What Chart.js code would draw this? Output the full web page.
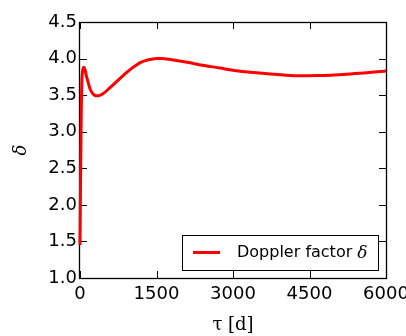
<!DOCTYPE html>
<html>
<head>
<meta charset="utf-8">
<script src="https://cdn.jsdelivr.net/npm/chart.js@4/dist/chart.umd.min.js"></script>
<style>
  html, body { margin: 0; padding: 0; background: #fff; }
  #c { display: block; }
</style>
</head>
<body>
<canvas id="c" width="406" height="336"></canvas>
<script>
// Doppler factor as a function of observer time tau (days)
const tauDays = [0, 20, 40, 80, 130, 200, 280, 350, 450, 600, 800, 900, 1000, 1100, 1200, 1300, 1400, 1500, 1600, 1700, 1800, 2100, 2400, 2750, 3000, 3400, 4000, 4300, 4700, 5300, 6000];
const dopplerFactor = [1.45, 3.0, 3.75, 3.88, 3.75, 3.58, 3.50, 3.49, 3.52, 3.61, 3.74, 3.80, 3.86, 3.91, 3.95, 3.975, 3.99, 4.0, 4.0, 3.995, 3.985, 3.95, 3.91, 3.87, 3.84, 3.81, 3.775, 3.765, 3.767, 3.79, 3.83];
const xTicks = [0, 1500, 3000, 4500, 6000];
const yTicks = [1.0, 1.5, 2.0, 2.5, 3.0, 3.5, 4.0, 4.5];
const seriesLabel = 'Doppler factor ';
const seriesSymbol = 'δ';

const points = tauDays.map((t, i) => ({ x: t, y: dopplerFactor[i] }));

// Frame around the plot area with inward tick marks on all four sides
const framePlugin = {
  id: 'frame',
  beforeDatasetsDraw(chart) {
    const { ctx, chartArea: a, scales } = chart;
    const len = 7;
    ctx.save();
    ctx.strokeStyle = '#000';
    ctx.lineWidth = 1;
    ctx.beginPath();
    scales.x.ticks.forEach(t => {
      const px = Math.round(scales.x.getPixelForValue(t.value)) + 0.5;
      ctx.moveTo(px, a.bottom); ctx.lineTo(px, a.bottom - len);
      ctx.moveTo(px, a.top); ctx.lineTo(px, a.top + len);
    });
    scales.y.ticks.forEach(t => {
      const py = Math.round(scales.y.getPixelForValue(t.value)) + 0.5;
      ctx.moveTo(a.left, py); ctx.lineTo(a.left + len, py);
      ctx.moveTo(a.right, py); ctx.lineTo(a.right - len, py);
    });
    ctx.stroke();
    ctx.lineWidth = 1.3;
    ctx.strokeRect(Math.round(a.left) - 0.5, Math.round(a.top) + 0.5,
                   Math.round(a.right - a.left) + 1, Math.round(a.bottom - a.top));
    ctx.restore();
  }
};

// Boxed legend in the lower right corner of the plot area
const boxLegendPlugin = {
  id: 'boxLegend',
  afterDraw(chart) {
    const { ctx, chartArea: a } = chart;
    const ds = chart.data.datasets[0];
    const w = 196, h = 35;
    const x0 = a.right - 8 - w, y0 = a.bottom - 8 - h;
    ctx.save();
    ctx.fillStyle = '#fff';
    ctx.fillRect(x0, y0, w, h);
    ctx.strokeStyle = '#000';
    ctx.lineWidth = 1;
    ctx.strokeRect(Math.round(x0) + 0.5, Math.round(y0) + 0.5, w, h);
    const cy = y0 + h / 2;
    ctx.strokeStyle = ds.borderColor;
    ctx.lineWidth = ds.borderWidth;
    ctx.beginPath();
    ctx.moveTo(x0 + 11, cy); ctx.lineTo(x0 + 38, cy);
    ctx.stroke();
    ctx.fillStyle = '#000';
    ctx.textBaseline = 'middle';
    ctx.font = '16px "DejaVu Sans"';
    ctx.fillText(seriesLabel, x0 + 55, cy);
    const tw = ctx.measureText(seriesLabel).width;
    ctx.font = 'italic 17px "DejaVu Serif"';
    ctx.fillText(seriesSymbol, x0 + 55 + tw, cy + 1);
    ctx.restore();
  }
};

new Chart(document.getElementById('c'), {
  type: 'line',
  data: {
    datasets: [{
      label: seriesLabel + seriesSymbol,
      data: points,
      borderColor: '#ff0000',
      borderWidth: 3,
      pointRadius: 0,
      cubicInterpolationMode: 'monotone',
      fill: false,
      clip: 3
    }]
  },
  options: {
    responsive: false,
    animation: false,
    layout: { padding: { left: 0, top: 22, right: 20, bottom: 0 } },
    plugins: { legend: { display: false }, tooltip: { enabled: false } },
    scales: {
      x: {
        type: 'linear',
        min: 0, max: 6000,
        afterBuildTicks(scale) { scale.ticks = xTicks.map(v => ({ value: v })); },
        afterFit(scale) { scale.height = 58; scale.paddingLeft = 0; scale.paddingRight = 0; },
        grid: { display: false },
        border: { display: false },
        ticks: {
          color: '#000',
          padding: -2,
          maxRotation: 0,
          font: { family: '"DejaVu Sans"', size: 18 },
          callback: v => String(v)
        },
        title: {
          display: true,
          text: 'τ [d]',
          color: '#000',
          font: { family: '"DejaVu Serif"', size: 18, lineHeight: 1.0 },
          padding: { top: 0, bottom: 2 }
        }
      },
      y: {
        min: 1, max: 4.5,
        afterBuildTicks(scale) { scale.ticks = yTicks.map(v => ({ value: v })); },
        afterFit(scale) { scale.width = 80; },
        grid: { display: false },
        border: { display: false },
        ticks: {
          color: '#000',
          padding: -5,
          font: { family: '"DejaVu Sans"', size: 18 },
          callback: v => Number(v).toFixed(1)
        },
        title: {
          display: true,
          text: 'δ',
          color: '#000',
          font: { family: '"DejaVu Serif"', size: 18, style: 'italic' },
          padding: { top: 11, bottom: 0 }
        }
      }
    }
  },
  plugins: [framePlugin, boxLegendPlugin]
});
</script>
</body>
</html>
